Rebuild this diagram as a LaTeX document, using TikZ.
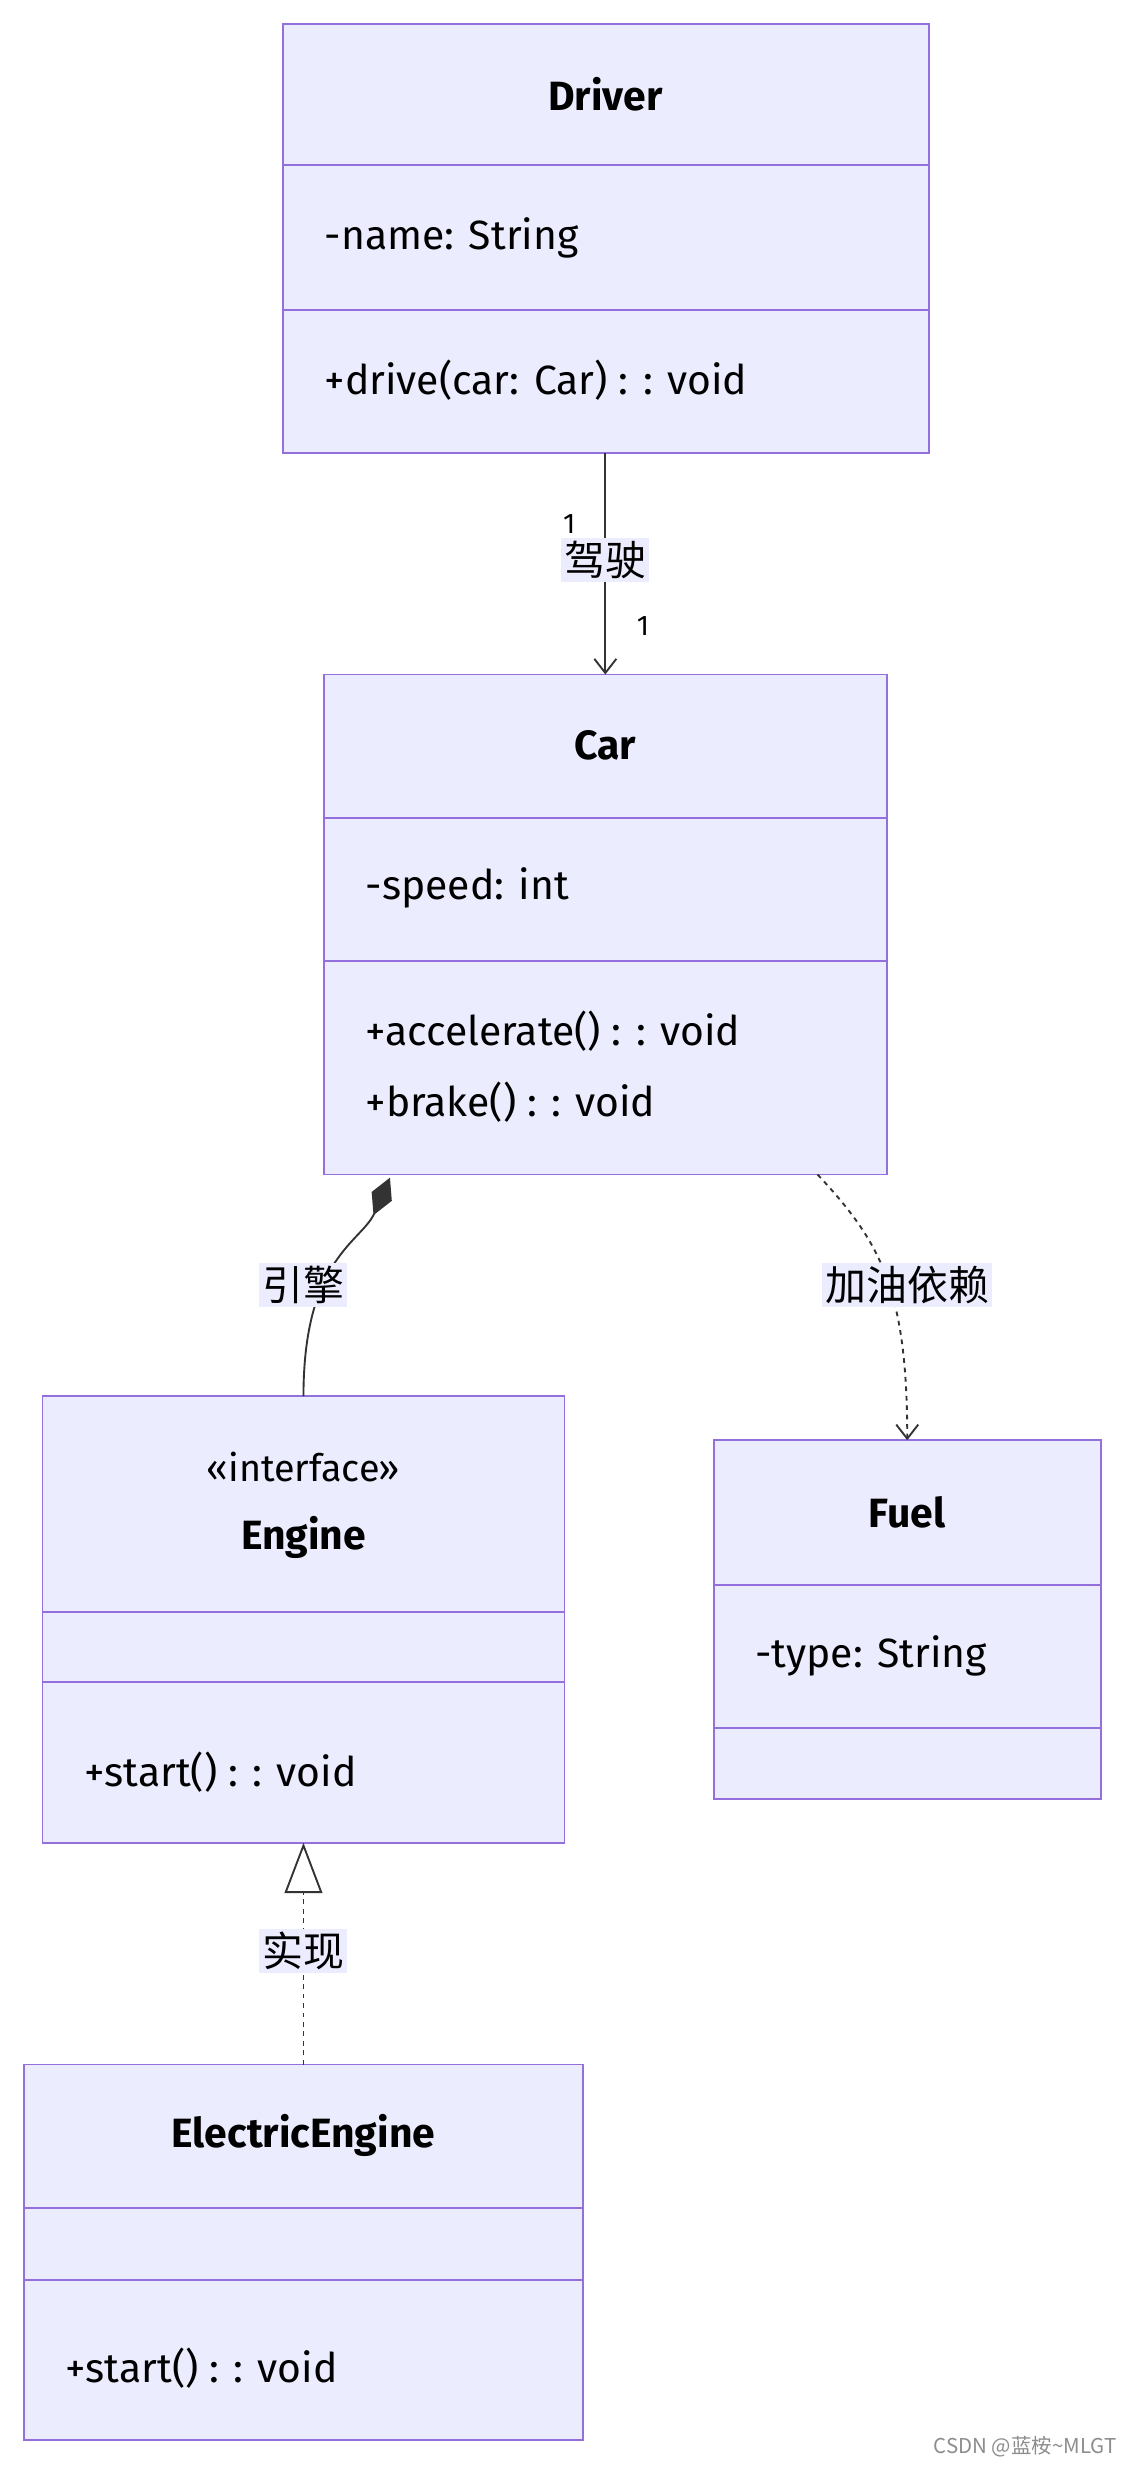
\documentclass[tikz,border=0pt]{standalone}
\usepackage{fontspec}
\setmainfont{Fira Sans}
\newfontfamily\cjk{Noto Sans CJK SC}
\usetikzlibrary{arrows.meta,positioning}
\definecolor{clsfill}{HTML}{ECECFF}
\definecolor{clsline}{HTML}{9370DB}
\tikzset{
  cls/.style={draw=clsline,fill=clsfill,line width=1.2pt,inner sep=0pt},
  sep/.style={draw=clsline,line width=1.2pt},
  member/.style={anchor=west,font=\fontsize{26}{45}\selectfont},
  title/.style={font=\fontsize{26}{32}\selectfont\bfseries},
  lbl/.style={fill=clsfill,inner sep=2pt,font=\fontsize{26}{30}\selectfont\cjk},
  mult/.style={font=\fontsize{18}{20}\selectfont},
  link/.style={line width=1.2pt,draw=black!80}
}
\begin{document}
\begin{tikzpicture}[x=1pt,y=-1pt]
\useasboundingbox (0,0) rectangle (720,1576);
%NODE
\node[cls,minimum width=411pt,minimum height=273pt] (driver) at (385.5,151.5) {};
\node[cls,minimum width=358pt,minimum height=318pt] (car) at (385,588) {};
\node[cls,minimum width=332pt,minimum height=284pt] (engine) at (193,1030) {};
\node[cls,minimum width=246pt,minimum height=228pt] (fuel) at (577,1030) {};
\node[cls,minimum width=356pt,minimum height=239pt] (electric) at (193,1432.5) {};

%SEPARATORS
\draw[sep] (180,105) -- (591,105) (180,197) -- (591,197);
\draw[sep] (206,520) -- (564,520) (206,611) -- (564,611);
\draw[sep] (27,1025) -- (359,1025) (27,1070) -- (359,1070);
\draw[sep] (454,1008) -- (700,1008) (454,1099) -- (700,1099);
\draw[sep] (15,1404) -- (371,1404) (15,1450) -- (371,1450);

%TEXT
\node[title] (driverT) at (385,60) {Driver};
\node[member] (driverA) at (203,151) {-name: String};
\node[member] (driverM) at (203,242) {+drive(car: Car) : : void};
\node[title] (carT) at (385,474) {Car};
\node[member] (carA) at (229,565) {-speed: int};
\node[member] (carM1) at (229,656) {+accelerate() : : void};
\node[member] (carM2) at (229,701) {+brake() : : void};
\node[font=\fontsize{24}{28}\selectfont] (engineS) at (193,933) {«interface»};
\node[title] (engineT) at (193,978) {Engine};
\node[member] (engineM) at (50,1127) {+start() : : void};
\node[title] (fuelT) at (577,962) {Fuel};
\node[member] (fuelA) at (477,1053) {-type: String};
\node[title] (electricT) at (193,1358) {ElectricEngine};
\node[member] (electricM) at (38,1506) {+start() : : void};

%EDGE
\coordinate (d1) at (385,288);
\coordinate (c1) at (385,429);
\draw[link,-{Straight Barb[length=9pt,width=14pt]}] (d1) -- (c1);
\node[lbl] (driveL) at (385,356) {驾驶};
\node[mult] (m1) at (362,333) {1};
\node[mult] (m2) at (409,398) {1};

\coordinate (c2) at (248,749);
\coordinate (e1) at (193,888);
\draw[link,{Diamond[length=26pt,width=14pt,fill=black!80]}-] (c2) .. controls (230,790) and (193,800) .. (e1);
\node[lbl] (engineL) at (193,817) {引擎};

\coordinate (c3) at (520,747);
\coordinate (f1) at (577,916);
\draw[link,dashed,-{Straight Barb[length=9pt,width=14pt]}] (c3) .. controls (560,790) and (577,820) .. (f1);
\node[lbl] (fuelL) at (577,817) {加油依赖};

\coordinate (e2) at (193,1172);
\coordinate (x1) at (193,1313);
\draw[link,dashed,-{Triangle[open,length=32pt,width=24pt,line width=1.2pt]}] (x1) -- (e2);
\node[lbl] (implL) at (193,1241) {实现};

\node[text=black!45,font=\fontsize{13}{15}\selectfont\cjk] (mark) at (652,1556) {CSDN @蓝桉\textasciitilde MLGT};
\end{tikzpicture}
\end{document}
